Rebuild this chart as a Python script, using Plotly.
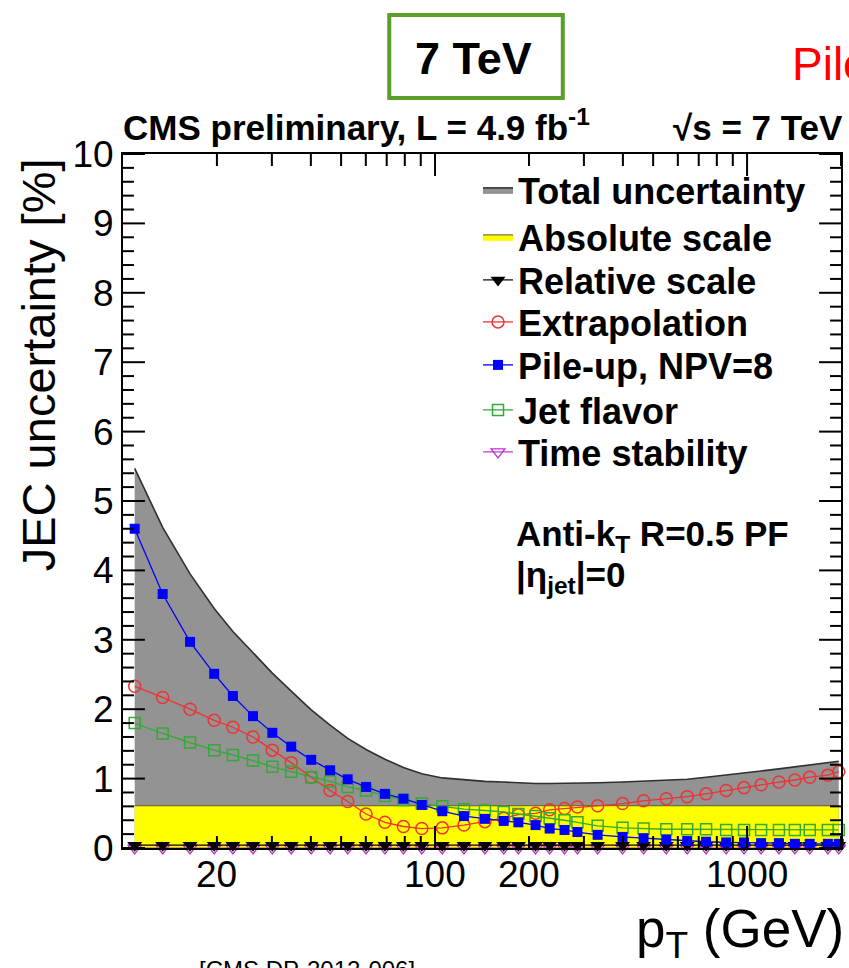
import math
import plotly.graph_objects as go

# ---------------- data ----------------
pt = [10.9, 13.4, 16.4, 19.6, 22.5, 26.1, 30.1, 34.6, 40.1, 46.1, 52.5, 60.1, 69.1,
      79.2, 90.7, 105.5, 123.8, 144.5, 166, 185, 210, 233, 260, 286, 332, 399, 466,
      551, 643, 739, 857, 978, 1109, 1265, 1423, 1588, 1815, 1967]

total_unc = [5.47, 4.62, 3.95, 3.45, 3.12, 2.81, 2.52, 2.26, 1.99, 1.77, 1.58, 1.42, 1.28,
             1.16, 1.07, 1.01, 0.98, 0.96, 0.95, 0.94, 0.93, 0.93, 0.93, 0.94, 0.94, 0.95, 0.96,
             0.97, 0.99, 1.02, 1.05, 1.08, 1.11, 1.14, 1.17, 1.20, 1.23, 1.25]

absolute_scale = [0.61] * 38

relative_scale = [0.04] * 38

extrapolation = [2.33, 2.17, 2.00, 1.84, 1.74, 1.60, 1.41, 1.23, 1.02, 0.83, 0.67, 0.49, 0.37,
                 0.31, 0.28, 0.29, 0.33, 0.38, 0.43, 0.48, 0.50, 0.55, 0.57, 0.59, 0.61, 0.64, 0.68,
                 0.71, 0.74, 0.78, 0.83, 0.87, 0.91, 0.95, 0.98, 1.02, 1.05, 1.10]

pileup = [4.60, 3.66, 2.97, 2.51, 2.19, 1.90, 1.66, 1.46, 1.27, 1.12, 0.99, 0.88, 0.78,
          0.71, 0.62, 0.53, 0.46, 0.42, 0.39, 0.37, 0.33, 0.28, 0.26, 0.23, 0.19, 0.16, 0.14,
          0.12, 0.10, 0.09, 0.08, 0.08, 0.07, 0.07, 0.06, 0.06, 0.06, 0.06]

jet_flavor = [1.80, 1.65, 1.52, 1.41, 1.34, 1.26, 1.17, 1.10, 1.02, 0.96, 0.88, 0.83, 0.75,
              0.69, 0.64, 0.60, 0.56, 0.54, 0.52, 0.49, 0.46, 0.43, 0.40, 0.37, 0.32, 0.29, 0.28,
              0.27, 0.27, 0.27, 0.26, 0.26, 0.26, 0.26, 0.26, 0.26, 0.26, 0.26]

time_stability = [0.0] * 38

y_major = [0, 1, 2, 3, 4, 5, 6, 7, 8, 9, 10]
y_minor = [round(i * 0.2, 1) for i in range(51) if i % 5 != 0]
x_label_vals = [20, 100, 200, 1000]
x_long_ticks = [100, 1000]
x_short_ticks = [20, 30, 40, 50, 60, 70, 80, 90, 200, 300, 400, 500, 600, 700, 800, 900, 2000]

# ---------------- layout helpers ----------------
W, H = 849, 968
L, R, T, B = 123, 843, 154, 848
XR = [1.0, 3.30103]   # log10 range of the x axis
YR = [0.0, 10.0]


def px(x):
    return (x - L) / (R - L)


def py(y):
    return (B - y) / (B - T)


REG = "Liberation Sans, Arial, sans-serif"
BOLD = "Liberation Sans, Arial, sans-serif"
TICKFONT = dict(family=REG, size=37, color="black")

fig = go.Figure()

fig.add_trace(go.Scatter(x=pt, y=total_unc, name="<b>Total uncertainty</b>", mode="lines",
                         fill="tozeroy", fillcolor="#939393", legend="legend",
                         line=dict(color="#303030", width=1.6)))
fig.add_trace(go.Scatter(x=pt, y=absolute_scale, name="<b>Absolute scale</b>", mode="lines",
                         fill="tozeroy", fillcolor="#ffff00", legend="legend2",
                         line=dict(color="#6e6e3c", width=1.2)))
fig.add_trace(go.Scatter(x=pt, y=time_stability, name="<b>Time stability</b>", mode="lines+markers",
                         line=dict(color="#bb33cc", width=1.2), legend="legend7",
                         marker=dict(symbol="triangle-down-open", size=12, color="#bb33cc",
                                     line=dict(width=1.3)),
                         cliponaxis=False))
fig.add_trace(go.Scatter(x=pt, y=relative_scale, name="<b>Relative scale</b>", mode="lines+markers",
                         line=dict(color="black", width=1.2), legend="legend3",
                         marker=dict(symbol="triangle-down", size=13, color="black"),
                         cliponaxis=False))
fig.add_trace(go.Scatter(x=pt, y=extrapolation, name="<b>Extrapolation</b>", mode="lines+markers",
                         line=dict(color="#ee3333", width=1.3), legend="legend4",
                         marker=dict(symbol="circle-open", size=12, color="#ee3333",
                                     line=dict(width=1.5)),
                         cliponaxis=False))
fig.add_trace(go.Scatter(x=pt, y=jet_flavor, name="<b>Jet flavor</b>", mode="lines+markers",
                         line=dict(color="#33aa33", width=1.3), legend="legend6",
                         marker=dict(symbol="square-open", size=11, color="#33aa33",
                                     line=dict(width=1.5)),
                         cliponaxis=False))
fig.add_trace(go.Scatter(x=pt, y=pileup, name="<b>Pile-up, NPV=8</b>", mode="lines+markers",
                         line=dict(color="#0000ff", width=1.3), legend="legend5",
                         marker=dict(symbol="square", size=10, color="#0000ff"),
                         cliponaxis=False))

# ---- axis tick marks, built from the tick lists with a fixed pixel length ----
dec_per_px = (XR[1] - XR[0]) / (R - L)
val_per_px = (YR[1] - YR[0]) / (B - T)
tx, ty = [], []
for vals, ln in ((y_major, 22), (y_minor, 11)):
    for v in vals:
        tx += [10 ** XR[0], 10 ** (XR[0] + ln * dec_per_px), None,
               10 ** XR[1], 10 ** (XR[1] - ln * dec_per_px), None]
        ty += [v, v, None, v, v, None]
for vals, ln in ((x_long_ticks, 22), (x_short_ticks, 12)):
    for v in vals:
        tx += [v, v, None, v, v, None]
        ty += [YR[0], YR[0] + ln * val_per_px, None, YR[1], YR[1] - ln * val_per_px, None]
fig.add_trace(go.Scatter(x=tx, y=ty, mode="lines", line=dict(color="black", width=2),
                         showlegend=False, hoverinfo="skip", connectgaps=False,
                         cliponaxis=False))

legend_rows = [190, 237, 280, 322, 365, 410, 452]
leg = {}
for i, yc in enumerate(legend_rows):
    key = "legend" if i == 0 else "legend%d" % (i + 1)
    leg[key] = dict(x=px(479), y=py(yc), xanchor="left", yanchor="middle",
                    font=dict(family=BOLD, size=36, color="black"),
                    bgcolor="rgba(0,0,0,0)", borderwidth=0, itemwidth=30)

fig.update_layout(
    width=W, height=H,
    margin=dict(l=L, r=W - R, t=T, b=H - B),
    paper_bgcolor="white", plot_bgcolor="white",
    showlegend=True,
    xaxis=dict(type="log", range=XR, showline=True, linecolor="black", linewidth=2,
               mirror=True, ticks="", showgrid=False, zeroline=False,
               showticklabels=False),
    yaxis=dict(range=YR, showline=True, linecolor="black", linewidth=2,
               mirror=True, ticks="", showgrid=False, zeroline=False,
               tickmode="array", tickvals=y_major, tickfont=TICKFONT),
    **leg,
)

ann = []
for v in x_label_vals:
    ann.append(dict(text=str(v), x=math.log10(v), xref="x", y=py(852), yref="paper",
                    xanchor="center", yanchor="top", showarrow=False, font=TICKFONT))
ann.append(dict(text="JEC uncertainty [%]", textangle=-90, x=px(38), y=py(365),
                xref="paper", yref="paper", xanchor="center", yanchor="middle",
                showarrow=False, font=dict(family=REG, size=47, color="black")))
ann.append(dict(text="<b>CMS preliminary, L = 4.9 fb<sup>-1</sup></b>", x=px(121), y=py(149),
                xref="paper", yref="paper", xanchor="left", yanchor="bottom",
                showarrow=False, font=dict(family=BOLD, size=35, color="black")))
ann.append(dict(text="<b>√s = 7 TeV</b>", x=px(847), y=py(149),
                xref="paper", yref="paper", xanchor="right", yanchor="bottom",
                showarrow=False, font=dict(family=BOLD, size=35, color="black")))
ann.append(dict(text="<b>Anti-k<sub>T</sub> R=0.5 PF</b>", x=px(515), y=py(512),
                xref="paper", yref="paper", xanchor="left", yanchor="top",
                showarrow=False, font=dict(family=BOLD, size=35, color="black")))
ann.append(dict(text="<b>|η<sub>jet</sub>|=0</b>", x=px(515), y=py(553),
                xref="paper", yref="paper", xanchor="left", yanchor="top",
                showarrow=False, font=dict(family=BOLD, size=35, color="black")))
ann.append(dict(text="p<sub>T</sub> (GeV)", x=px(848), y=py(968),
                xref="paper", yref="paper", xanchor="right", yanchor="bottom",
                showarrow=False, font=dict(family=REG, size=53, color="black")))
ann.append(dict(text="[CMS DP-2012-006]", x=px(197), y=py(954),
                xref="paper", yref="paper", xanchor="left", yanchor="top",
                showarrow=False, font=dict(family=REG, size=24, color="black")))
ann.append(dict(text="<b>7 TeV</b>", x=px(474), y=py(58),
                xref="paper", yref="paper", xanchor="center", yanchor="middle",
                showarrow=False, font=dict(family=BOLD, size=45, color="black")))
ann.append(dict(text="Pile-up", x=px(792), y=py(92),
                xref="paper", yref="paper", xanchor="left", yanchor="bottom",
                showarrow=False, font=dict(family=REG, size=46, color="#ff0000")))
fig.update_layout(annotations=ann)

fig.add_shape(type="rect", xref="paper", yref="paper",
              x0=px(390), x1=px(564), y0=py(98), y1=py(15),
              line=dict(color="#5b9e2c", width=4), fillcolor="rgba(0,0,0,0)")

fig.write_html("out.html")
